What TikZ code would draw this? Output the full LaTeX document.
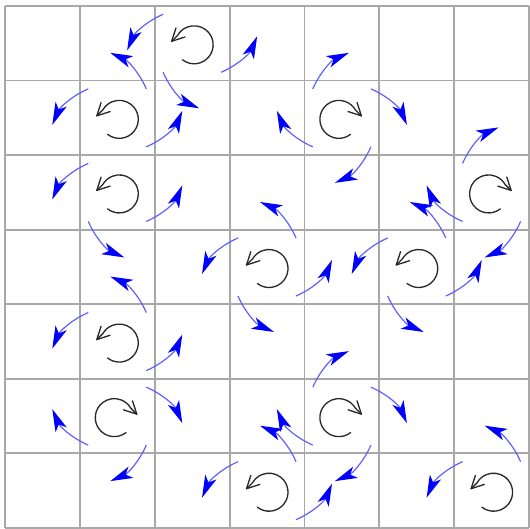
\documentclass[tikz,border=0pt]{standalone}
\usetikzlibrary{arrows.meta}
\definecolor{gridgray}{RGB}{168,168,168}
\definecolor{flowblue}{RGB}{0,0,255}
\definecolor{flowline}{RGB}{95,95,255}
\definecolor{spingray}{RGB}{40,40,40}
\tikzset{
  flow/.style={draw=flowline, line width=0.45pt,
    -{Stealth[length=8.5pt,width=4.6pt,inset=2.2pt,color=flowblue]}},
  gridline/.style={draw=gridgray, line width=0.7pt},
  spinline/.style={draw=spingray, line width=0.5pt, line cap=round, line join=round},
}
% #1 cx, #2 cy (pixels, y down), #3 xscale (1 = ccw, -1 = cw), #4 rotation
\newcommand\flowarrow[4]{%
  \draw[flow, shift={(#1,-#2)}, xscale=#3, rotate=#4]
    (-29,29) .. controls (-45.8,21.8) and (-57.8,9.8) .. (-65,-7);}
% #1 name, #2 cx, #3 cy, #4 x offset, #5 xscale
\newcommand\spinsym[5]{%
  \coordinate (#1) at (#2,-#3);
  \begin{scope}[shift={(#2+#4,-#3-1.5)}, xscale=#5]
    \draw[spinline] (232:19) arc[start angle=232, end angle=510, radius=19] -- (-22.5,3.5);
    \draw[spinline] (-18.2,16.8) -- (-22.5,3.5) -- (-9.2,7.8);
  \end{scope}}
\begin{document}
\begin{tikzpicture}[x=0.013333cm, y=0.013333cm]
\useasboundingbox (0,0) rectangle (530,-529);
\clip (0,0) rectangle (530,-529);
% grid
\foreach \k in {0,...,7}{
  \pgfmathsetmacro\gx{5+74.86*\k}
  \pgfmathsetmacro\gy{6+74.57*\k}
  \draw[gridline] (\gx,-6) -- (\gx,-528);
  \draw[gridline] (5,-\gy) -- (529,-\gy);
}
% vortices (ccw: offset 2, xscale 1; cw: offset -3, xscale -1)
\spinsym{v1}{192.15}{43.29}{2}{1}
\spinsym{v2}{117.29}{117.86}{2}{1}
\spinsym{v3}{341.87}{117.86}{-3}{-1}
\spinsym{v4}{117.29}{192.43}{2}{1}
\spinsym{v5}{491.59}{192.43}{-3}{-1}
\spinsym{v6}{267.01}{267.0}{2}{1}
\spinsym{v7}{416.73}{267.0}{2}{1}
\spinsym{v8}{117.29}{341.56}{2}{1}
\spinsym{v9}{117.29}{416.13}{-3}{-1}
\spinsym{v10}{341.87}{416.13}{-3}{-1}
\spinsym{v11}{267.01}{490.7}{2}{1}
\spinsym{v12}{491.59}{490.7}{2}{1}
% flow arrows around each vortex
\foreach \a in {0,90,180}{\flowarrow{192.15}{43.29}{1}{\a}}
\foreach \a in {0,180,270}{\flowarrow{117.29}{117.86}{1}{\a}}
\foreach \a in {0,90,180,270}{\flowarrow{341.87}{117.86}{-1}{\a}}
\foreach \a in {0,90,180}{\flowarrow{117.29}{192.43}{1}{\a}}
\foreach \a in {90,180,270}{\flowarrow{491.59}{192.43}{-1}{\a}}
\foreach \a in {0,90,180,270}{\flowarrow{267.01}{267.0}{1}{\a}}
\foreach \a in {0,90,180,270}{\flowarrow{416.73}{267.0}{1}{\a}}
\foreach \a in {0,180,270}{\flowarrow{117.29}{341.56}{1}{\a}}
\foreach \a in {0,90,180}{\flowarrow{117.29}{416.13}{-1}{\a}}
\foreach \a in {0,90,180,270}{\flowarrow{341.87}{416.13}{-1}{\a}}
\foreach \a in {0,180,270}{\flowarrow{267.01}{490.7}{1}{\a}}
\foreach \a in {0,270}{\flowarrow{491.59}{490.7}{1}{\a}}
\end{tikzpicture}
\end{document}
